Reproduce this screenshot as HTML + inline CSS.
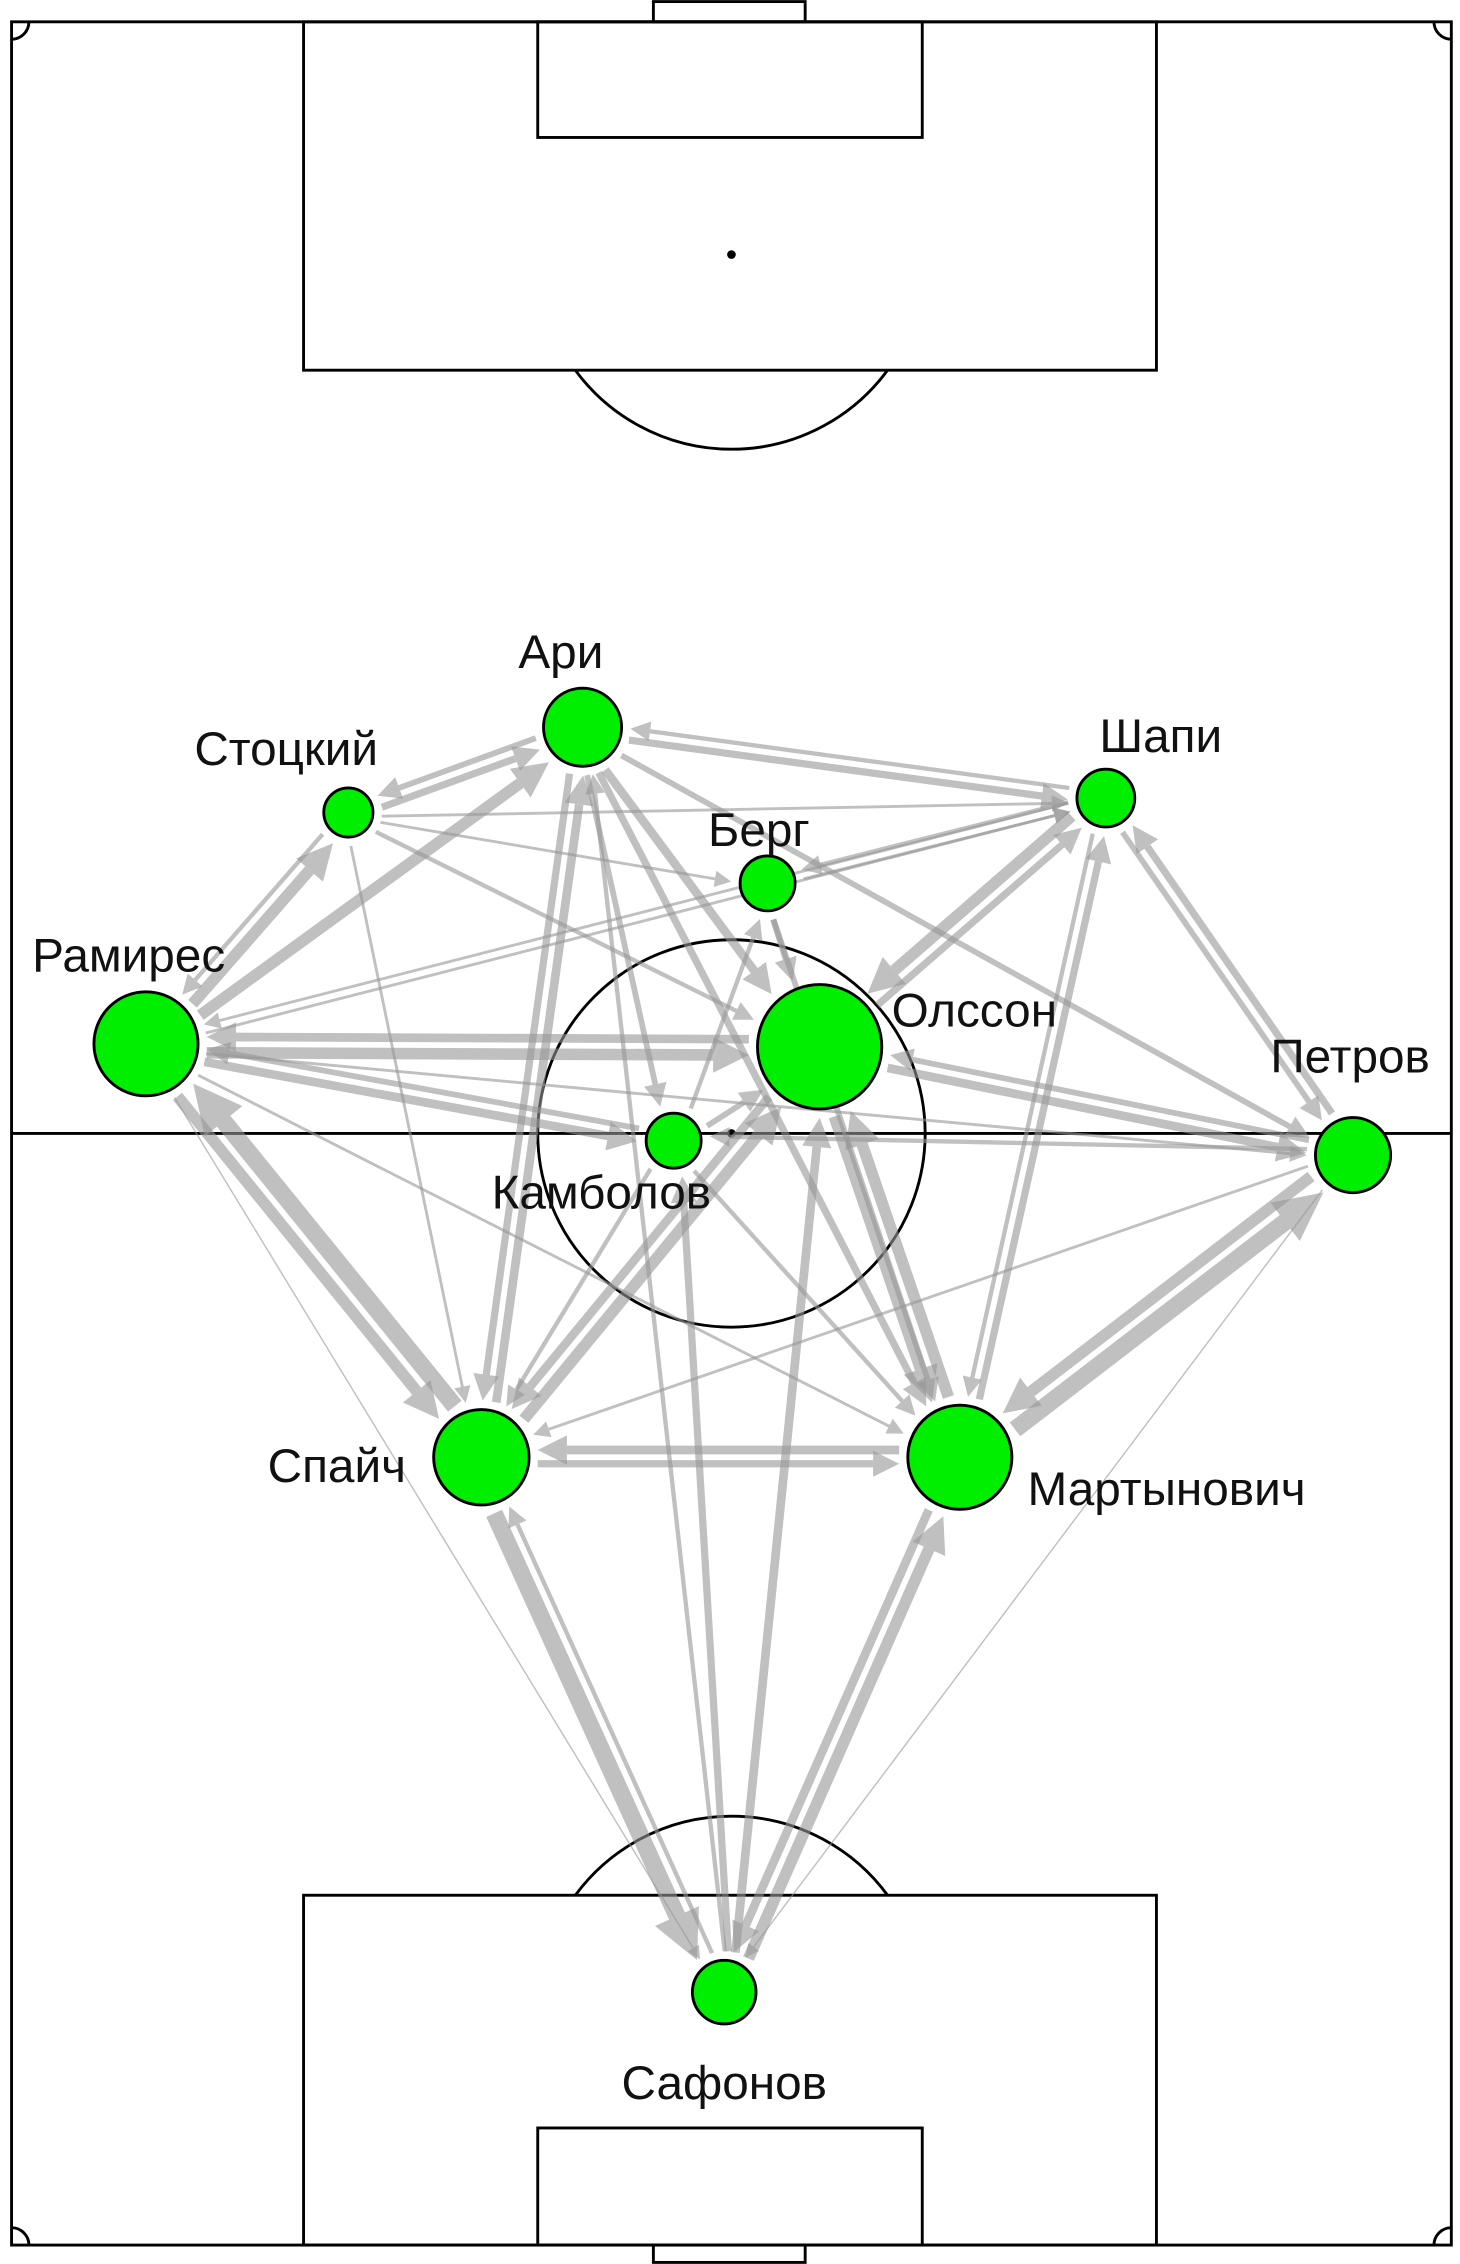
<!DOCTYPE html>
<html><head><meta charset="utf-8"><style>
html,body{margin:0;padding:0;background:#fff;}
svg{display:block;}
text{font-family:"Liberation Sans",sans-serif;font-size:33px;fill:#111;}
</style></head><body>
<svg id="s" width="1460" height="2264" viewBox="0 0 1010 1566" xmlns="http://www.w3.org/2000/svg">
<g fill="none" stroke="#000" stroke-width="2">
<rect x="8" y="15" width="996" height="1538"/>
<rect x="452" y="1" width="105" height="14"/>
<rect x="452" y="1553" width="105" height="12"/>
<rect x="210" y="15" width="590" height="241"/>
<rect x="372" y="15" width="266" height="80"/>
<path d="M398 256 A134 134 0 0 0 614 256"/>
<rect x="210" y="1311" width="590" height="242"/>
<rect x="372" y="1472" width="266" height="81"/>
<path d="M398 1311 A134 134 0 0 1 614 1311"/>
<line x1="8" y1="784" x2="1004" y2="784"/>
<circle cx="506" cy="784" r="134"/>
<path d="M8 27 A12 12 0 0 0 20 15"/><path d="M992 15 A12 12 0 0 0 1004 27"/>
<path d="M8 1541 A12 12 0 0 1 20 1553"/><path d="M992 1553 A12 12 0 0 1 1004 1541"/>
</g>
<circle cx="506" cy="176" r="3"/><circle cx="506" cy="784" r="3"/>
<g id="edges"></g>
<g id="nodes" fill="#00ee00" stroke="#000" stroke-width="2"></g>
<text x="388" y="462" text-anchor="middle">Ари</text>
<text x="198" y="529" text-anchor="middle">Стоцкий</text>
<text x="803" y="520" text-anchor="middle">Шапи</text>
<text x="525" y="585" text-anchor="middle">Берг</text>
<text x="89" y="672" text-anchor="middle">Рамирес</text>
<text x="674" y="710" text-anchor="middle">Олссон</text>
<text x="934" y="742" text-anchor="middle">Петров</text>
<text x="416" y="836" text-anchor="middle">Камболов</text>
<text x="233" y="1025" text-anchor="middle">Спайч</text>
<text x="807" y="1041" text-anchor="middle">Мартынович</text>
<text x="501" y="1452" text-anchor="middle">Сафонов</text>
</svg>
<script>
var N={A:[403,503,27],S:[241,562,17],Sh:[765,552,20],B:[531,611,19],R:[101,722,36],O:[567,724,43],P:[936,799,26],K:[466,789,19],Sp:[333,1008,33],M:[664,1008,36],Sf:[501,1378,22]};
var E=[["R","S",8],["S","R",3],["R","A",8],["S","A",5],["A","S",4],["Sp","R",12],["R","Sp",8],["R","O",8],["O","R",6],["R","K",6],["K","R",4],["R","Sh",2],["R","P",2],["R","M",2],["R","Sf",1],
["A","Sh",5],["Sh","A",3],["A","P",4],["A","O",6],["A","M",5],["A","K",4],["A","Sp",5],["Sp","A",6],["S","Sh",2],["S","B",2],["S","O",3],["S","Sp",2],
["Sh","O",8],["O","Sh",5],["P","Sh",5],["Sh","P",4],["M","Sh",5],["Sh","M",3],["Sh","B",3],["B","Sh",2],["Sh","R",2],["B","O",4],["B","M",4],["K","B",3],
["O","P",6],["P","O",4],["P","K",3],["P","Sp",2],["P","M",8],["M","P",12],["P","Sf",1],["O","M",8],["M","O",8],["O","Sp",6],["Sp","O",8],["Sp","M",5],["M","Sp",6],
["Sp","Sf",12],["Sf","Sp",3],["Sf","M",8],["M","Sf",6],["Sf","O",6],["Sf","K",5],["Sf","A",3],["K","Sp",3],["K","O",4],["K","M",3]];
var g=document.getElementById("edges"),h="";
E.forEach(function(e){var a=N[e[0]],b=N[e[1]],w=e[2];var dx=b[0]-a[0],dy=b[1]-a[1],L=Math.hypot(dx,dy),ux=dx/L,uy=dy/L,px=-uy,py=ux,o=w/2+2;
var x1=a[0]+ux*(a[2]+6)+px*o,y1=a[1]+uy*(a[2]+6)+py*o,x2=b[0]-ux*(b[2]+6)+px*o,y2=b[1]-uy*(b[2]+6)+py*o;
var al=2.2*w+7,aw=1.1*w+3.5,bx=x2-ux*al,by=y2-uy*al;
h+='<line x1="'+x1+'" y1="'+y1+'" x2="'+bx+'" y2="'+by+'" stroke="rgb(150,150,150)" stroke-opacity="0.6" stroke-width="'+w+'"/>';
h+='<polygon points="'+x2+','+y2+' '+(bx+px*aw)+','+(by+py*aw)+' '+(bx-px*aw)+','+(by-py*aw)+'" fill="rgb(150,150,150)" fill-opacity="0.6"/>';});
g.innerHTML=h;var q="";for(var k in N){q+='<circle cx="'+N[k][0]+'" cy="'+N[k][1]+'" r="'+N[k][2]+'"/>';}
document.getElementById("nodes").innerHTML=q;
</script>
</body></html>
